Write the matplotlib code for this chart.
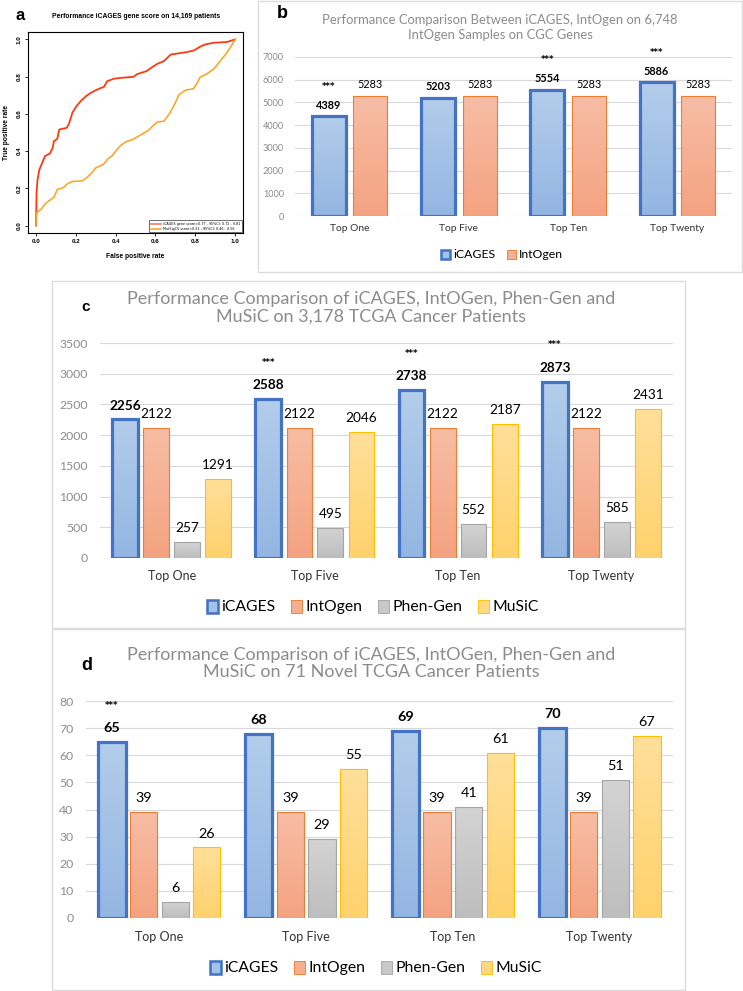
import numpy as np
import matplotlib
matplotlib.use("Agg")
import matplotlib.pyplot as plt
from matplotlib.patches import Rectangle, Patch
from matplotlib.colors import LinearSegmentedColormap

W, H = 743, 991
DPI = 100

# ---------------- data ----------------
roc_icages_fpr = [0, 0.002, 0.003, 0.008, 0.017, 0.028, 0.045, 0.070, 0.084, 0.090, 0.107, 0.117, 0.154,
                  0.166, 0.183, 0.201, 0.224, 0.251, 0.275, 0.308, 0.342, 0.358, 0.392, 0.430, 0.489,
                  0.509, 0.556, 0.586, 0.610, 0.643, 0.677, 0.757, 0.794, 0.821, 0.849, 0.891, 0.958, 1.0]
roc_icages_tpr = [0, 0.104, 0.176, 0.247, 0.301, 0.328, 0.373, 0.387, 0.418, 0.453, 0.466, 0.516, 0.525,
                  0.548, 0.606, 0.638, 0.668, 0.695, 0.713, 0.731, 0.746, 0.776, 0.789, 0.794, 0.799,
                  0.814, 0.830, 0.853, 0.869, 0.884, 0.919, 0.932, 0.941, 0.959, 0.973, 0.982, 0.986, 1.0]
roc_mutsig_fpr = [0, 0.003, 0.028, 0.045, 0.065, 0.090, 0.107, 0.137, 0.157, 0.183, 0.233, 0.258, 0.280,
                  0.300, 0.338, 0.363, 0.384, 0.400, 0.425, 0.452, 0.486, 0.526, 0.564, 0.590, 0.610,
                  0.643, 0.673, 0.693, 0.719, 0.752, 0.791, 0.811, 0.824, 0.861, 0.894, 0.928, 0.961, 0.988, 1.0]
roc_mutsig_tpr = [0, 0.068, 0.090, 0.115, 0.133, 0.151, 0.194, 0.203, 0.224, 0.237, 0.240, 0.260, 0.283,
                  0.310, 0.328, 0.360, 0.376, 0.400, 0.430, 0.450, 0.462, 0.487, 0.511, 0.538, 0.556,
                  0.561, 0.606, 0.645, 0.704, 0.728, 0.735, 0.767, 0.797, 0.817, 0.842, 0.887, 0.932, 0.978, 1.0]
roc_legend = ["iCAGES gene score=0.77 , 95%CI: 0.72 - 0.81",
              "MutSigCV score=0.51 , 95%CI: 0.46 - 0.56"]

categories = ["Top One", "Top Five", "Top Ten", "Top Twenty"]

b_icages = [4389, 5203, 5554, 5886]
b_intogen = [5283, 5283, 5283, 5283]
b_stars = [True, False, True, True]

c_icages = [2256, 2588, 2738, 2873]
c_intogen = [2122, 2122, 2122, 2122]
c_phengen = [257, 495, 552, 585]
c_music = [1291, 2046, 2187, 2431]
c_stars = [False, True, True, True]

d_icages = [65, 68, 69, 70]
d_intogen = [39, 39, 39, 39]
d_phengen = [6, 29, 41, 51]
d_music = [26, 55, 61, 67]
d_stars = [True, False, False, False]

series_names = ["iCAGES", "IntOgen", "Phen-Gen", "MuSiC"]

# ---------------- styles ----------------
FILL = {"iCAGES": "#a3c2e7", "IntOgen": "#f5ae8f", "Phen-Gen": "#c9c9c9", "MuSiC": "#ffd883"}
GRAD = {"iCAGES": ("#b3cdeb", "#93b6e2"), "IntOgen": ("#f7bda5", "#f4a381"),
        "Phen-Gen": ("#d3d3d3", "#bebebe"), "MuSiC": ("#ffdf9a", "#ffd26c")}
EDGE = {"iCAGES": "#4472c4", "IntOgen": "#ed7d31", "Phen-Gen": "#a5a5a5", "MuSiC": "#ffc000"}
LW = {"iCAGES": 2.3, "IntOgen": 0.8, "Phen-Gen": 0.8, "MuSiC": 0.8}
GRID = "#d9d9d9"
TITLE_C = "#8c8c8c"
TICK_C = "#8c8c8c"
CAT_C = "#333333"
FONT = "Lato"

fig = plt.figure(figsize=(W / DPI, H / DPI), dpi=DPI)
fig.patch.set_facecolor("white")


def rect(l, t, r, b):
    return [l / W, 1 - b / H, (r - l) / W, (b - t) / H]


def fig_box(l, t, r, b):
    fig.patches.append(Rectangle((l / W, 1 - b / H), (r - l) / W, (b - t) / H,
                                 transform=fig.transFigure, fill=False,
                                 edgecolor="#dcdcdc", linewidth=1.0, zorder=0))


def ftext(x, y, s, **kw):
    fig.text(x / W, 1 - y / H, s, **kw)


# ---------------- panel a ----------------
axa = fig.add_axes(rect(28, 32, 243, 233))
axa.plot(roc_icages_fpr, roc_icages_tpr, color="#ff3a10", lw=1.3, label=roc_legend[0])
axa.plot(roc_mutsig_fpr, roc_mutsig_tpr, color="#ffa01a", lw=1.1, label=roc_legend[1])
axa.set_xlim(-0.04, 1.04)
axa.set_ylim(-0.04, 1.04)
ticks = [0, 0.2, 0.4, 0.6, 0.8, 1.0]
axa.set_xticks(ticks)
axa.set_yticks(ticks)
axa.set_xticklabels([f"{t:.1f}" for t in ticks], fontsize=4.5, family="Liberation Sans", fontweight="bold")
axa.set_yticklabels([f"{t:.1f}" for t in ticks], fontsize=4.5, family="Liberation Sans", fontweight="bold",
                    rotation=90, va="center")
axa.tick_params(length=2.5, width=0.6, pad=2)
for s in axa.spines.values():
    s.set_linewidth(0.8)
axa.set_xlabel("False positive rate", fontsize=4.8, family="Liberation Sans", fontweight="bold", labelpad=6)
axa.set_ylabel("True positive rate", fontsize=4.8, family="Liberation Sans", fontweight="bold", labelpad=5)
leg = axa.legend(loc="lower right", fontsize=2.4, frameon=True, fancybox=False, handlelength=3,
                 borderaxespad=0.2, borderpad=0.5, labelspacing=0.3)
leg.get_frame().set_edgecolor("black")
leg.get_frame().set_linewidth(0.5)
leg.get_lines()[0].set_color("#f4856f")
ftext(136, 16, "Performance iCAGES gene score on 14,169 patients", ha="center", va="center",
      fontsize=4.9, family="Liberation Sans", fontweight="bold")
ftext(20, 15, "a", ha="center", va="center", fontsize=12, family="Liberation Sans", fontweight="bold")


# ---------------- bar panels ----------------
def bar_panel(ax, series, offsets, width, ymax, ystep, stars, tick_fs, val_fs, cat_fs,
              val_off, star_off, tick_pad, cat_pad):
    x = np.arange(len(categories))
    for k in range(0, ymax + 1, ystep):
        ax.axhline(k, color=GRID, lw=0.8, zorder=0)
    grad = np.linspace(0, 1, 64).reshape(-1, 1)
    for i, (name, vals) in enumerate(series):
        xs = x + offsets[i]
        bars = ax.bar(xs, vals, width, color=FILL[name], edgecolor="none", linewidth=0, zorder=2)
        cmap = LinearSegmentedColormap.from_list(name, [GRAD[name][1], GRAD[name][0]])
        for bar in bars:
            bx, bw, bh = bar.get_x(), bar.get_width(), bar.get_height()
            im = ax.imshow(grad, cmap=cmap, origin="lower", aspect="auto",
                           extent=(bx, bx + bw, 0, bh), zorder=2.5, interpolation="bilinear")
            im.set_clip_path(bar)
        ax.bar(xs, vals, width, fill=False, edgecolor=EDGE[name], linewidth=LW[name], zorder=3)
        for xi, v in zip(xs, vals):
            ax.annotate(str(v), (xi, v), xytext=(0, val_off), textcoords="offset points",
                        ha="center", va="center", fontsize=val_fs, family=FONT,
                        fontweight="bold" if name == "iCAGES" else "normal", color="black")
        if name == "iCAGES":
            for xi, v, st in zip(xs, vals, stars):
                if st:
                    ax.annotate("***", (xi, v), xytext=(0, star_off), textcoords="offset points",
                                ha="center", va="center", fontsize=6, fontweight="bold", color="black")
    ax.set_xlim(-0.5, len(categories) - 0.5)
    ax.set_ylim(0, ymax)
    ax.set_yticks(range(0, ymax + 1, ystep))
    ax.set_yticklabels([str(k) for k in range(0, ymax + 1, ystep)], fontsize=tick_fs, family=FONT, color=TICK_C)
    ax.set_xticks(x)
    ax.set_xticklabels(categories, fontsize=cat_fs, family=FONT, color=CAT_C)
    ax.tick_params(axis="y", length=0, pad=tick_pad)
    ax.tick_params(axis="x", length=0, pad=cat_pad)
    for s in ax.spines.values():
        s.set_visible(False)
    ax.set_facecolor("none")


def legend_handles(names):
    return [Patch(facecolor=FILL[n], edgecolor=EDGE[n], linewidth=LW[n] * 0.8) for n in names]


# panel b
fig_box(258, 1, 742, 272)
axb = fig.add_axes(rect(295, 57, 732, 216))
bar_panel(axb, [("iCAGES", b_icages), ("IntOgen", b_intogen)], [-0.19, 0.19], 0.31, 7000, 1000,
          b_stars, tick_fs=6.6, val_fs=7.8, cat_fs=7.4, val_off=8, star_off=21.5, tick_pad=8, cat_pad=6)
ftext(500, 27.5, "Performance Comparison Between iCAGES, IntOgen on 6,748\nIntOgen Samples on CGC Genes",
      ha="center", va="center", fontsize=9.4, family=FONT, color=TITLE_C, linespacing=1.3)
ftext(282, 14, "b", ha="center", va="center", fontsize=13, family="Liberation Sans", fontweight="bold")
fig.legend(legend_handles(["iCAGES", "IntOgen"]), ["iCAGES", "IntOgen"], loc="center",
           bbox_to_anchor=(502 / W, 1 - 255 / H), ncol=2, frameon=False,
           prop={"family": FONT, "size": 8.8}, handlelength=0.75, handleheight=0.75,
           handletextpad=0.25, columnspacing=0.9)

# panel c
fig_box(52, 281, 685, 628)
axc = fig.add_axes(rect(100, 343, 673, 558))
bar_panel(axc, [("iCAGES", c_icages), ("IntOgen", c_intogen), ("Phen-Gen", c_phengen), ("MuSiC", c_music)],
          [-0.325, -0.108, 0.108, 0.325], 0.18, 3500, 500, c_stars,
          tick_fs=8.8, val_fs=9.8, cat_fs=9.0, val_off=10, star_off=26.5, tick_pad=9, cat_pad=9)
ftext(371, 307.5, "Performance Comparison of iCAGES, IntOGen, Phen-Gen and\nMuSiC on 3,178 TCGA Cancer Patients",
      ha="center", va="center", fontsize=13, family=FONT, color=TITLE_C, linespacing=1.12)
ftext(86, 307, "c", ha="center", va="center", fontsize=11, family="Liberation Sans", fontweight="bold")
fig.legend(legend_handles(series_names), series_names, loc="center",
           bbox_to_anchor=(373 / W, 1 - 607 / H), ncol=4, frameon=False,
           prop={"family": FONT, "size": 11.3}, handlelength=0.7, handleheight=0.9,
           handletextpad=0.2, columnspacing=1.0)

# panel d
fig_box(52, 629, 685, 990)
axd = fig.add_axes(rect(86, 701, 673, 918))
bar_panel(axd, [("iCAGES", d_icages), ("IntOgen", d_intogen), ("Phen-Gen", d_phengen), ("MuSiC", d_music)],
          [-0.323, -0.108, 0.108, 0.323], 0.185, 80, 10, d_stars,
          tick_fs=8.8, val_fs=10.4, cat_fs=9.0, val_off=10, star_off=26, tick_pad=9, cat_pad=9.5)
ftext(371, 663.5, "Performance Comparison of iCAGES, IntOGen, Phen-Gen and\nMuSiC on 71 Novel TCGA Cancer Patients",
      ha="center", va="center", fontsize=13, family=FONT, color=TITLE_C, linespacing=1.12)
ftext(87, 665, "d", ha="center", va="center", fontsize=13, family="Liberation Sans", fontweight="bold")
fig.legend(legend_handles(series_names), series_names, loc="center",
           bbox_to_anchor=(376 / W, 1 - 968 / H), ncol=4, frameon=False,
           prop={"family": FONT, "size": 11.3}, handlelength=0.7, handleheight=0.9,
           handletextpad=0.2, columnspacing=1.0)

fig.savefig("out.png", dpi=DPI)
